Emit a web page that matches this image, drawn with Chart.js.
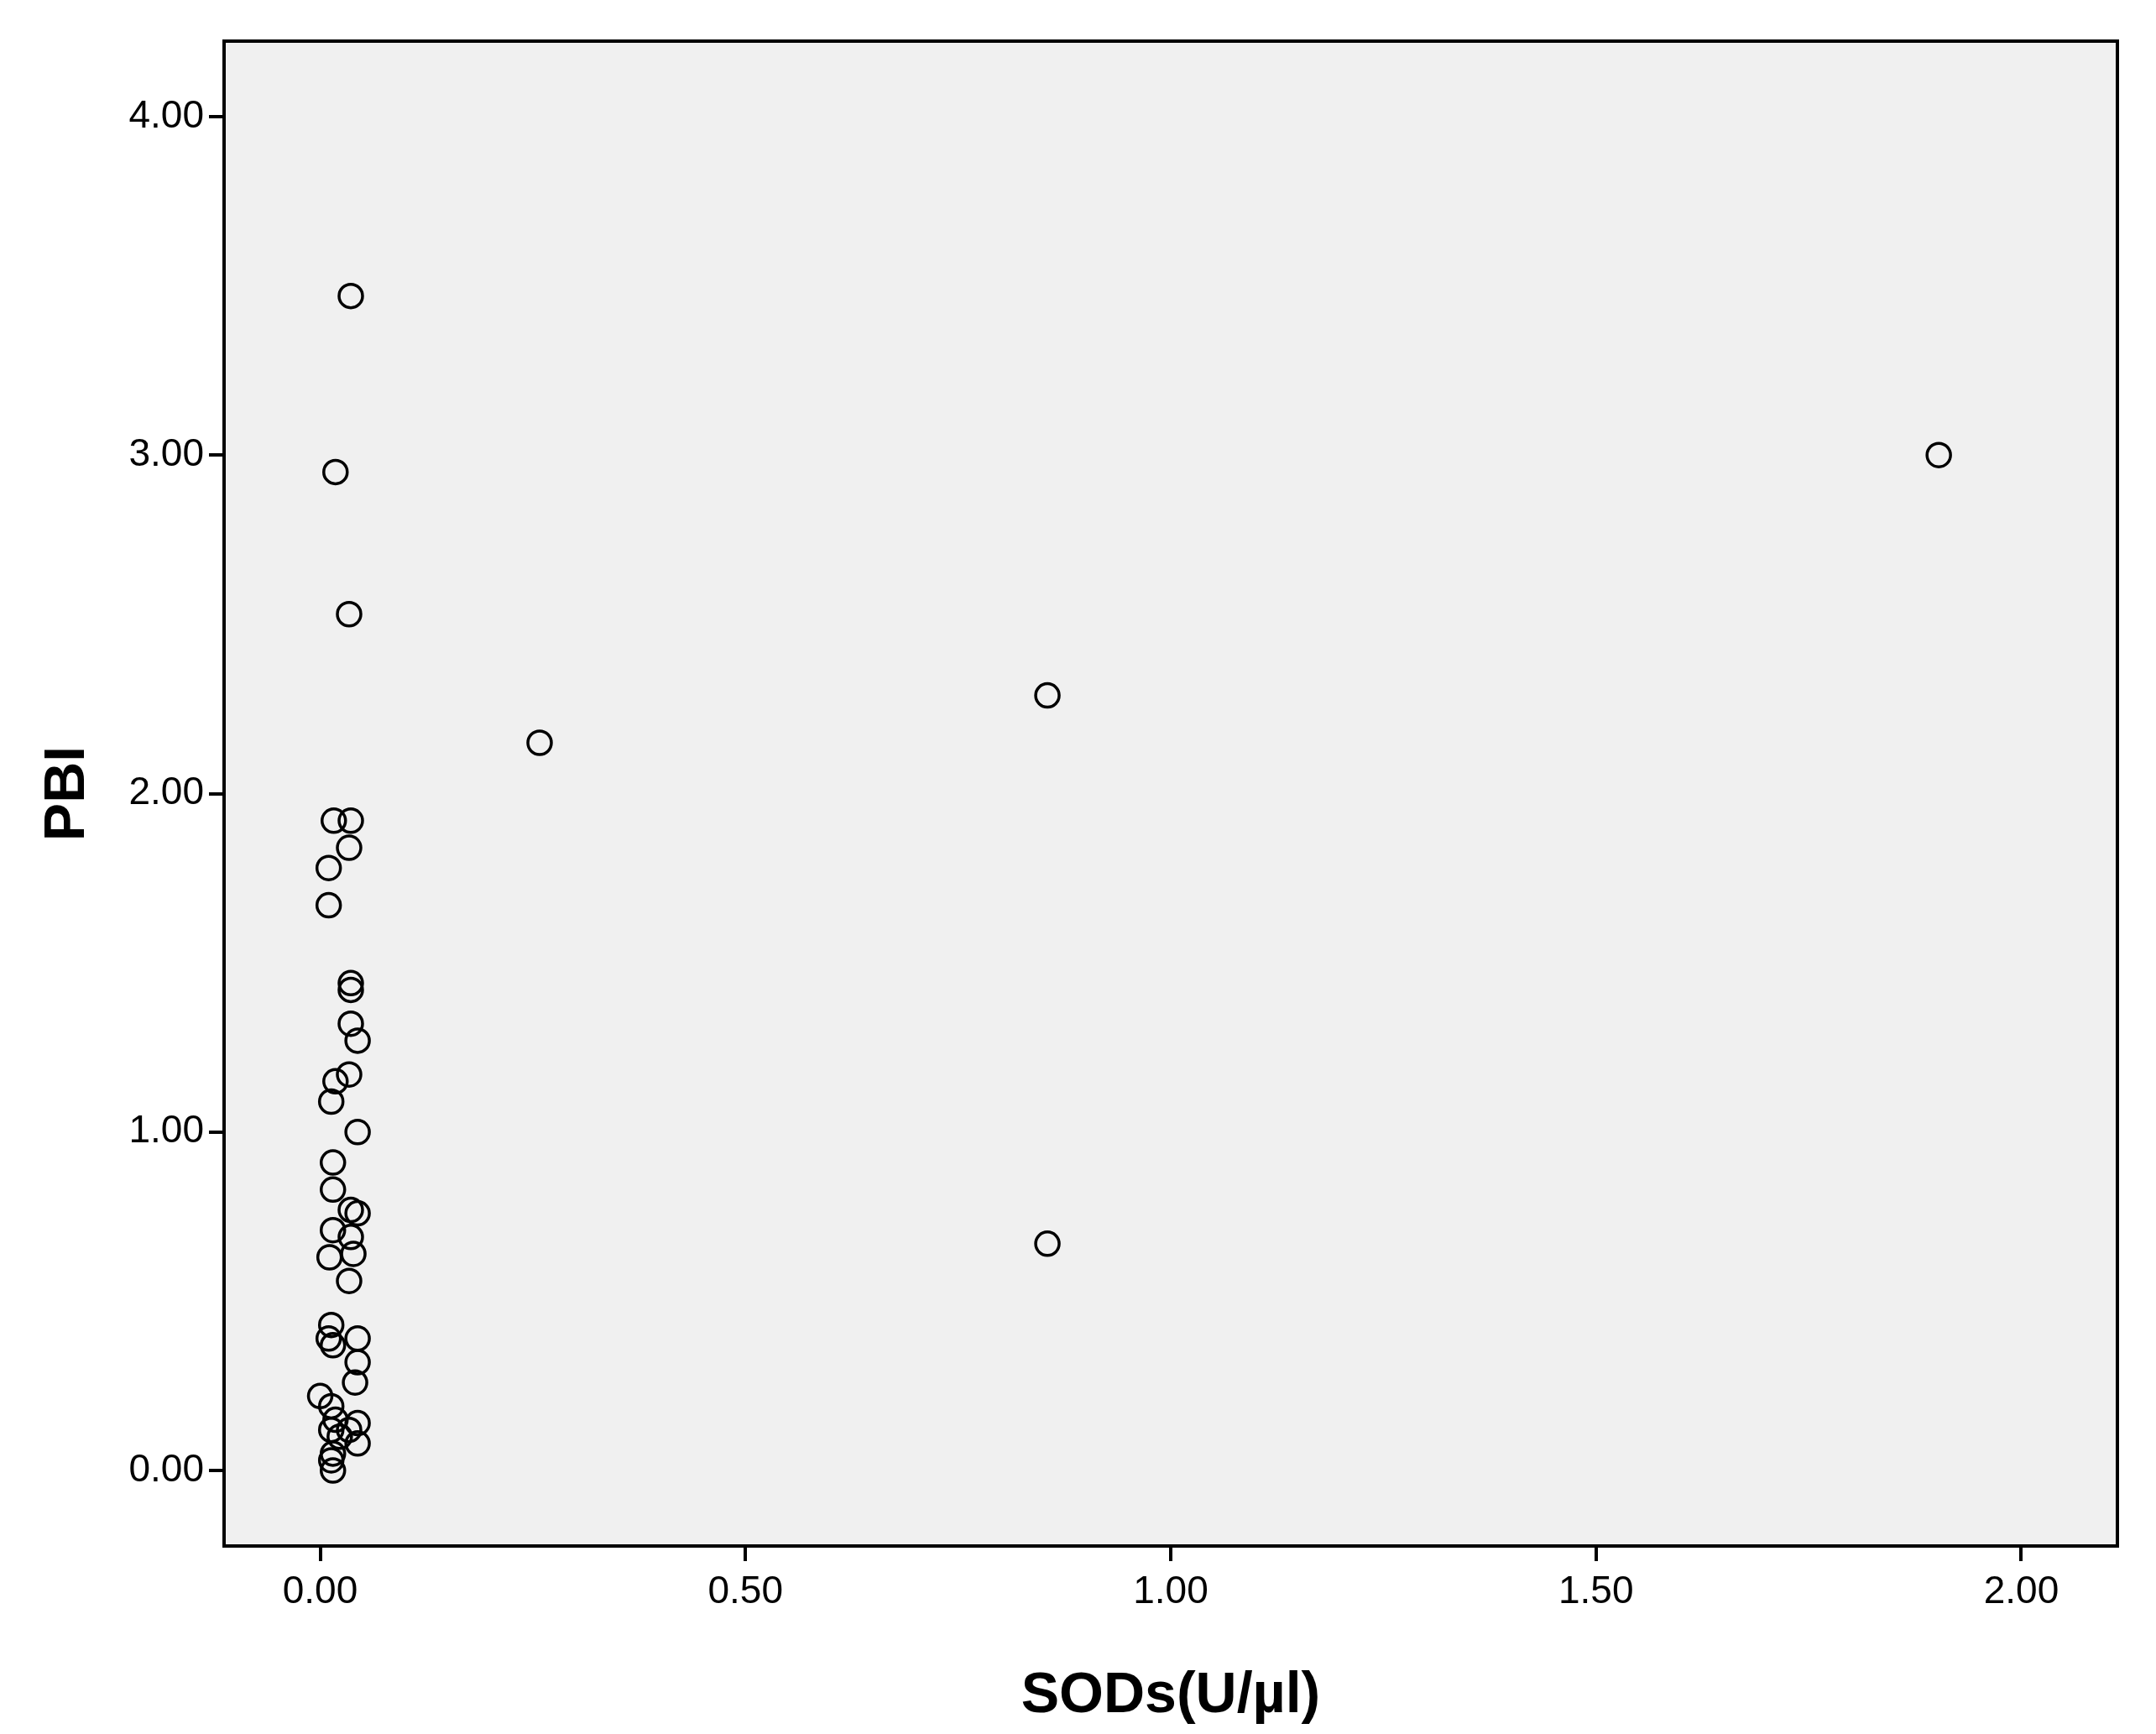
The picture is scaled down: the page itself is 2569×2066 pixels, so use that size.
<!DOCTYPE html>
<html>
<head>
<meta charset="utf-8">
<script src="https://cdn.jsdelivr.net/npm/chart.js@4/dist/chart.umd.min.js"></script>
<style>
html, body { margin: 0; padding: 0; background: #fff; }
#wrap { width: 2569px; height: 2066px; }
</style>
</head>
<body>
<div id="wrap"><canvas id="scatter"></canvas></div>
<script>
// SODs (U/µl) vs PBI
var sodValues = [1.903, 0.855, 0.258, 0.855,
    0.036, 0.018, 0.034, 0.016, 0.036, 0.034, 0.010, 0.010, 0.036, 0.036,
    0.036, 0.044, 0.018, 0.034, 0.013, 0.044, 0.015, 0.015, 0.036, 0.044,
    0.015, 0.036, 0.039, 0.011, 0.034, 0.013, 0.010, 0.044, 0.015, 0.044,
    0.041, 0.000, 0.013, 0.018, 0.044, 0.034, 0.013, 0.023, 0.044, 0.015,
    0.013, 0.015];
var pbiValues = [3.00, 2.29, 2.15, 0.67,
    3.47, 2.95, 2.53, 1.92, 1.92, 1.84, 1.78, 1.67, 1.44, 1.42,
    1.32, 1.27, 1.15, 1.17, 1.09, 1.00, 0.91, 0.83, 0.77, 0.76,
    0.71, 0.69, 0.64, 0.63, 0.56, 0.43, 0.39, 0.39, 0.37, 0.32,
    0.26, 0.22, 0.19, 0.15, 0.14, 0.12, 0.12, 0.10, 0.08, 0.05,
    0.03, 0.00];
var xTicks = [0, 0.5, 1, 1.5, 2];
var yTicks = [0, 1, 2, 3, 4];

var points = [];
for (var i = 0; i < sodValues.length; i++) {
    points.push({ x: sodValues[i], y: pbiValues[i] });
}

var plotFrame = {
    id: 'plotFrame',
    beforeDraw: function(chart) {
        var a = chart.chartArea, c = chart.ctx;
        c.save();
        c.fillStyle = '#f0f0f0';
        c.fillRect(a.left, a.top, a.right - a.left, a.bottom - a.top);
        c.restore();
    },
    afterDraw: function(chart) {
        var a = chart.chartArea, c = chart.ctx;
        c.save();
        c.strokeStyle = '#000';
        c.lineWidth = 4;
        c.strokeRect(a.left, a.top, a.right - a.left, a.bottom - a.top);
        c.restore();
    }
};

function keepTicks(list) {
    return function(axis) {
        axis.ticks = list.map(function(v) { return { value: v }; });
    };
}

new Chart(document.getElementById('scatter'), {
    type: 'scatter',
    data: {
        datasets: [{
            data: points,
            pointRadius: 14,
            pointBorderWidth: 3.5,
            pointBorderColor: '#000',
            pointBackgroundColor: 'rgba(0,0,0,0)',
            pointHoverRadius: 14
        }]
    },
    plugins: [plotFrame],
    options: {
        responsive: true,
        maintainAspectRatio: false,
        animation: false,
        events: [],
        layout: { padding: { top: 49, right: 46, left: 0, bottom: 0 } },
        plugins: { legend: { display: false }, tooltip: { enabled: false } },
        scales: {
            x: {
                type: 'linear',
                min: -0.113,
                max: 2.113,
                afterBuildTicks: keepTicks(xTicks),
                afterFit: function(axis) { axis.height = 224; },
                grid: { drawOnChartArea: false, drawTicks: true, tickLength: 18, color: '#000', lineWidth: 4 },
                border: { display: true, color: '#000', width: 4 },
                ticks: {
                    color: '#000',
                    padding: 10,
                    font: { family: "'Liberation Sans', Arial, sans-serif", size: 46 },
                    callback: function(v) { return v.toFixed(2); }
                },
                title: {
                    display: true,
                    text: 'SODs(U/µl)',
                    color: '#000',
                    padding: { top: 40 },
                    font: { family: "'Liberation Sans', Arial, sans-serif", size: 68, weight: 'bold' }
                }
            },
            y: {
                type: 'linear',
                min: -0.223,
                max: 4.223,
                afterBuildTicks: keepTicks(yTicks),
                afterFit: function(axis) { axis.width = 267; },
                grid: { drawOnChartArea: false, drawTicks: true, tickLength: 18, color: '#000', lineWidth: 4 },
                border: { display: true, color: '#000', width: 4 },
                ticks: {
                    color: '#000',
                    padding: 6,
                    font: { family: "'Liberation Sans', Arial, sans-serif", size: 46 },
                    callback: function(v) { return v.toFixed(2); }
                },
                title: {
                    display: true,
                    text: 'PBI',
                    color: '#000',
                    padding: { top: 40, bottom: 0 },
                    font: { family: "'Liberation Sans', Arial, sans-serif", size: 68, weight: 'bold' }
                }
            }
        }
    }
});
</script>
</body>
</html>
